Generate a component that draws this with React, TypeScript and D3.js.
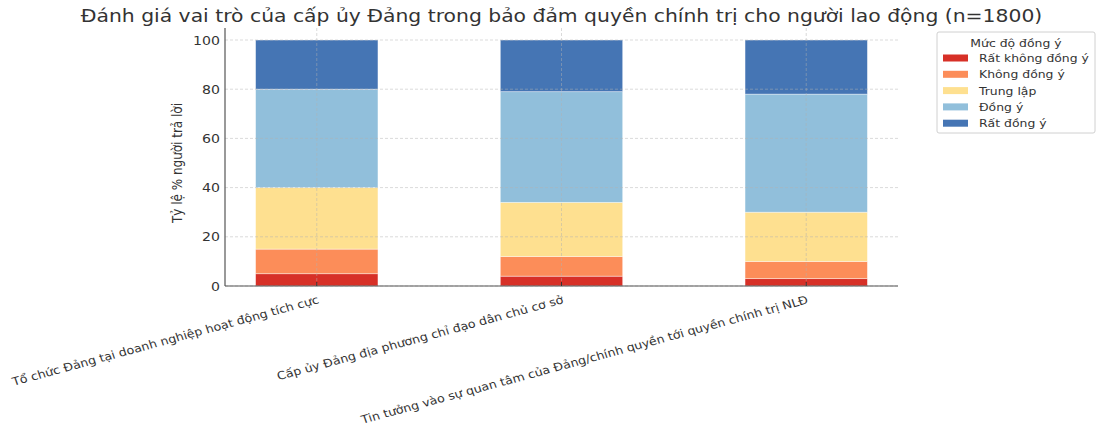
import React from "react";
import * as d3 from "d3";

const categories = [
  "Tổ chức Đảng tại doanh nghiệp hoạt động tích cực",
  "Cấp ủy Đảng địa phương chỉ đạo dân chủ cơ sở",
  "Tin tưởng vào sự quan tâm của Đảng/chính quyền tới quyền chính trị NLĐ",
];
const levels = ["Rất không đồng ý", "Không đồng ý", "Trung lập", "Đồng ý", "Rất đồng ý"];
const stronglyDisagree = [5, 4, 3];
const disagree = [10, 8, 7];
const neutral = [25, 22, 20];
const agree = [40, 45, 48];
const stronglyAgree = [20, 21, 22];
const seriesValues = [stronglyDisagree, disagree, neutral, agree, stronglyAgree];
const colors = ["#d73027", "#fc8d59", "#fee090", "#91bfdb", "#4575b4"];
const yTicks = [0, 20, 40, 60, 80, 100];
const title = "Đánh giá vai trò của cấp ủy Đảng trong bảo đảm quyền chính trị cho người lao động (n=1800)";
const yLabel = "Tỷ lệ % người trả lời";
const legendTitle = "Mức độ đồng ý";

const W = 1101;
const H = 432;
const left = 225;
const right = 898;
const top = 40;
const bottom = 286;
const SX = 1.13;
const font = "DejaVu Sans, sans-serif";

export default function App() {
  const x = d3.scaleLinear().domain([-0.375, 2.375]).range([left, right]);
  const y = d3.scaleLinear().domain([0, 100]).range([bottom, top]);
  const barW = x(0.5) - x(0);
  const rows = categories.map((c, i) => {
    const o: any = { cat: c };
    levels.forEach((l, k) => (o[l] = seriesValues[k][i]));
    return o;
  });
  const stack = d3.stack<any>().keys(levels)(rows);

  return (
    <svg width={W} height={H} style={{ display: "block", position: "absolute", left: 0, top: 0 }} fontFamily={font}>
      <rect width={W} height={H} fill="#fff" />
      <text transform={`translate(${(left + right) / 2},22) scale(${SX},1)`} textAnchor="middle" fontSize={18} fill="#333">
        {title}
      </text>
      {stack.map((s, k) =>
        s.map((d, i) => (
          <rect
            key={k + "-" + i}
            x={x(i) - barW / 2}
            y={y(d[1])}
            width={barW}
            height={y(d[0]) - y(d[1])}
            fill={colors[k]}
            stroke="#fff"
            strokeOpacity={0.5}
            strokeWidth={0.8}
          />
        ))
      )}
      {yTicks.map((t) => (
        <line key={"gy" + t} x1={left} x2={right} y1={y(t)} y2={y(t)} stroke="#b0b0b0" strokeOpacity={0.6} strokeDasharray="3,2" strokeWidth={0.8} />
      ))}
      {categories.map((c, i) => (
        <line key={"gx" + i} x1={x(i)} x2={x(i)} y1={top - 12} y2={bottom} stroke="#b0b0b0" strokeOpacity={0.6} strokeDasharray="3,2" strokeWidth={0.8} />
      ))}
      <line x1={left} x2={left} y1={top - 12} y2={bottom} stroke="#555" strokeWidth={1.2} />
      <line x1={left} x2={right} y1={bottom} y2={bottom} stroke="#555" strokeWidth={1.2} />
      {categories.map((c, i) => (
        <line key={"tx" + i} x1={x(i)} x2={x(i)} y1={bottom} y2={bottom - 4} stroke="#333" strokeWidth={1} />
      ))}
      {yTicks.map((t) => (
        <text key={"ty" + t} transform={`translate(${left - 5},${y(t)}) scale(${SX},1)`} dy="0.36em" textAnchor="end" fontSize={12.5} fill="#333">
          {t}
        </text>
      ))}
      <text transform={`translate(182,${(top + bottom) / 2}) scale(${SX},1) rotate(-90)`} textAnchor="middle" fontSize={12} fill="#333">
        {yLabel}
      </text>
      {categories.map((c, i) => (
        <text
          key={"lx" + i}
          transform={`translate(${x(i)},${bottom + 9}) scale(${SX},1) rotate(-17)`}
          textAnchor="end"
          dy="0.75em"
          fontSize={11.2}
          fill="#333"
        >
          {c}
        </text>
      ))}
      <g>
        <rect x={937} y={32} width={158} height={101} rx={2} fill="#fff" stroke="#d0d0d0" strokeWidth={1} />
        <text transform={`translate(1016,47) scale(${SX},1)`} textAnchor="middle" fontSize={11} fill="#333">
          {legendTitle}
        </text>
        {levels.map((l, k) => (
          <g key={"lg" + k} transform={`translate(0,${58 + k * 16.3})`}>
            <rect x={943} y={-3.5} width={25} height={7} fill={colors[k]} />
            <text transform={`translate(979,0) scale(${SX},1)`} dy="0.36em" fontSize={11} fill="#333">
              {l}
            </text>
          </g>
        ))}
      </g>
    </svg>
  );
}
